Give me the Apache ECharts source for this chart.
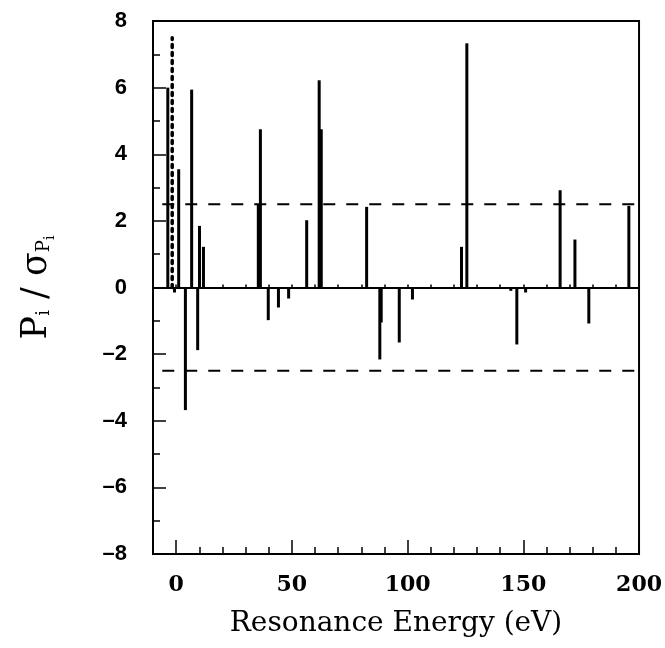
<!DOCTYPE html>
<html>
<head>
<meta charset="utf-8">
<script src="https://cdn.jsdelivr.net/npm/echarts@6/dist/echarts.min.js"></script>
<style>
  html, body { margin: 0; background: #fff; }
  #chart { width: 665px; height: 648px; }
</style>
</head>
<body>
<div id="chart"></div>
<script>
// resonance energies (eV) and significance P_i / sigma
var energies = [-3.6, 1.1, 6.7, 10.1, 11.8, 35.5, 36.4, 56.4, 61.8, 62.7, 82.3, 123.3, 125.6, 165.9, 172.3, 195.6,
                -0.7, 4.0, 9.3, 39.8, 44.2, 48.6, 88.0, 88.6, 96.4, 102.1, 144.6, 147.2, 151.0, 178.3];
var significance = [6.0, 3.55, 5.94, 1.85, 1.22, 2.5, 4.75, 2.02, 6.22, 4.75, 2.42, 1.22, 7.33, 2.92, 1.44, 2.45,
                    -0.15, -3.68, -1.88, -0.98, -0.6, -0.33, -2.16, -1.05, -1.65, -0.36, -0.1, -1.71, -0.15, -1.08];
// dotted marker near zero energy
var dottedX = [-1.7, -1.7];
var dottedY = [0, 7.5];
// +/- threshold lines
var thresholdX = [-6, 200];
var thresholdUp = [2.5, 2.5];
var thresholdDown = [-2.5, -2.5];
var xMajorTicks = [0, 50, 100, 150, 200];

var myChart = echarts.init(document.getElementById('chart'));

function pairs(xs, ys) {
  return xs.map(function (x, i) { return [x, ys[i]]; });
}

var black = '#000';
var option = {
  backgroundColor: '#fff',
  animation: false,
  grid: {
    left: 153, right: 25, top: 21, bottom: 94,
    show: true, borderColor: black, borderWidth: 2
  },
  xAxis: [
    { // zero line with tiny ticks
      type: 'value', min: -10, max: 200, interval: 10,
      axisLine: { onZero: true, lineStyle: { color: black, width: 2 } },
      axisTick: { inside: true, length: 3, lineStyle: { color: black, width: 1.5 } },
      axisLabel: { show: false },
      splitLine: { show: false }
    },
    { // bottom minor ticks
      type: 'value', position: 'bottom', min: -10, max: 200, interval: 10,
      axisLine: { onZero: false, lineStyle: { color: black, width: 2 } },
      axisTick: { inside: true, length: 7, lineStyle: { color: black, width: 1.5 } },
      axisLabel: { show: false },
      splitLine: { show: false }
    },
    { // bottom major ticks + labels
      type: 'value', position: 'bottom', min: -10, max: 200,
      axisLine: { onZero: false, show: false },
      axisTick: { inside: true, length: 14, customValues: xMajorTicks, lineStyle: { color: black, width: 1.5 } },
      axisLabel: {
        customValues: xMajorTicks, margin: 20, color: black,
        fontFamily: 'DejaVu Serif', fontSize: 22, fontWeight: 'bold'
      },
      splitLine: { show: false },
      name: 'Resonance Energy (eV)', nameLocation: 'middle', nameGap: 56,
      nameTextStyle: { fontFamily: 'DejaVu Serif', fontSize: 28, color: black }
    }
  ],
  yAxis: {
    type: 'value', min: -8, max: 8, interval: 2,
    axisLine: { onZero: false, lineStyle: { color: black, width: 2 } },
    axisTick: { inside: true, length: 13, lineStyle: { color: black, width: 1.5 } },
    minorTick: { show: true, splitNumber: 2, length: 7, lineStyle: { color: black, width: 1.5 } },
    splitLine: { show: false },
    axisLabel: {
      margin: 26, color: black, fontFamily: 'Liberation Sans', fontSize: 22, fontWeight: 'bold',
      formatter: function (v) { return v < 0 ? '\u2013' + (-v) : String(v); }
    },
    name: '{p|P}{s|i}{p| / \u03c3}{s|P}{ss|i}',
    nameLocation: 'middle', nameRotate: 90, nameGap: 96,
    nameTextStyle: {
      color: black,
      rich: {
        p: { fontFamily: 'DejaVu Serif', fontSize: 35, color: black },
        s: { fontFamily: 'DejaVu Serif', fontSize: 18, color: black, padding: [15, 0, 0, 0] },
        ss: { fontFamily: 'DejaVu Serif', fontSize: 14, color: black, padding: [26, 0, 0, 0] }
      }
    }
  },
  series: [
    {
      type: 'bar', xAxisIndex: 1, barWidth: 3, silent: true,
      itemStyle: { color: black },
      data: pairs(energies, significance)
    },
    {
      type: 'line', xAxisIndex: 1, symbol: 'none', silent: true,
      lineStyle: { color: black, width: 3.5, type: [3, 5], cap: 'round' },
      data: pairs(dottedX, dottedY)
    },
    {
      type: 'line', xAxisIndex: 1, symbol: 'none', silent: true,
      lineStyle: { color: black, width: 2, type: [12, 11] },
      data: pairs(thresholdX, thresholdUp)
    },
    {
      type: 'line', xAxisIndex: 1, symbol: 'none', silent: true,
      lineStyle: { color: black, width: 2, type: [12, 11] },
      data: pairs(thresholdX, thresholdDown)
    }
  ]
};
myChart.setOption(option);
</script>
</body>
</html>
